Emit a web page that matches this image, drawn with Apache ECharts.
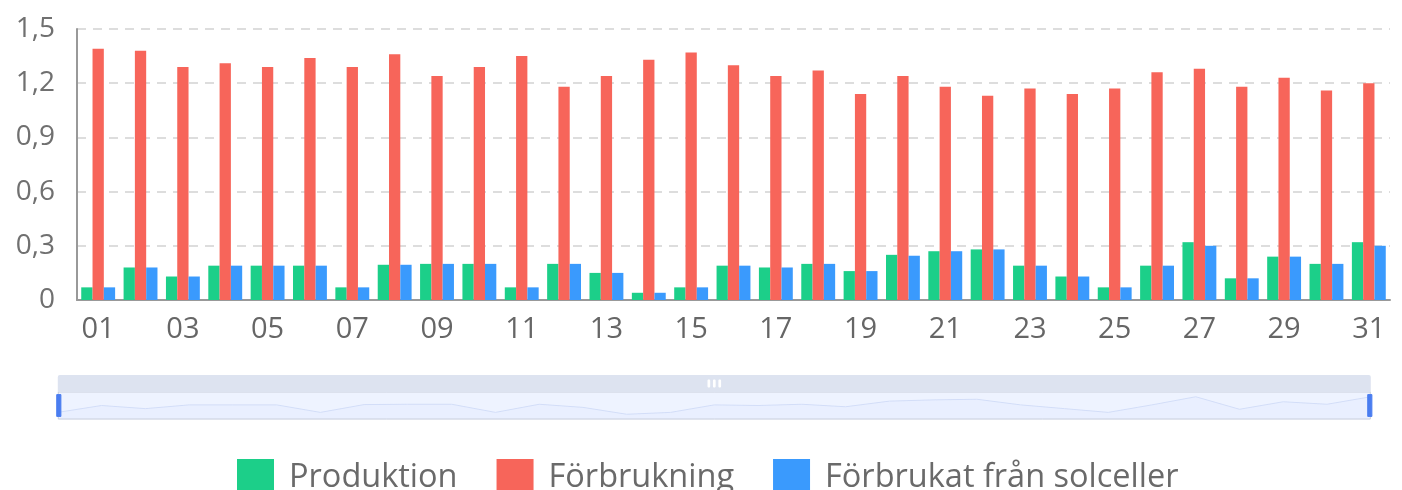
<!DOCTYPE html>
<html>
<head>
<meta charset="utf-8">
<script src="https://cdn.jsdelivr.net/npm/echarts@6/dist/echarts.min.js"></script>
<style>
html,body{margin:0;padding:0;background:#fff;}
#chart{width:1402px;height:490px;}
</style>
</head>
<body>
<div id="chart"></div>
<script>
const days = ['01','02','03','04','05','06','07','08','09','10','11','12','13','14','15','16','17','18','19','20','21','22','23','24','25','26','27','28','29','30','31'];
const produktion = [0.07,0.18,0.13,0.19,0.19,0.19,0.07,0.195,0.20,0.20,0.07,0.20,0.15,0.04,0.07,0.19,0.18,0.20,0.16,0.25,0.27,0.28,0.19,0.13,0.07,0.19,0.32,0.12,0.24,0.20,0.32];
const forbrukning = [1.39,1.38,1.29,1.31,1.29,1.34,1.29,1.36,1.24,1.29,1.35,1.18,1.24,1.33,1.37,1.30,1.24,1.27,1.14,1.24,1.18,1.13,1.17,1.14,1.17,1.26,1.28,1.18,1.23,1.16,1.20];
const franSolceller = [0.07,0.18,0.13,0.19,0.19,0.19,0.07,0.195,0.20,0.20,0.07,0.20,0.15,0.04,0.07,0.19,0.18,0.20,0.16,0.245,0.27,0.28,0.19,0.13,0.07,0.19,0.30,0.12,0.24,0.20,0.30];
const seriesNames = ['Produktion','Förbrukning','Förbrukat från solceller'];
const colors = ['#1ccf89','#f7655a','#3a9afd'];

const font = '"Open Sans", "Noto Sans", sans-serif';
const chart = echarts.init(document.getElementById('chart'), null, {renderer:'canvas'});
chart.setOption({
  animation:false,
  color: colors,
  textStyle:{fontFamily:font},
  grid:{left:77,right:12,top:29,bottom:190,containLabel:false},
  legend:{
    top:459,left:237,padding:0,
    itemWidth:37,itemHeight:37,itemGap:39,
    icon:'rect',
    textStyle:{fontSize:32.5,color:'#6a6a6a',fontFamily:font,padding:[0,0,10,10]},
    data:seriesNames
  },
  dataZoom:[{
    type:'slider',
    xAxisIndex:0,
    start:0,end:100,
    left:51,right:38,top:375,height:28,
    showDetail:false,
    moveHandleSize:17,
    moveHandleStyle:{color:'#dde3f0',opacity:1},
    handleIcon:'path://M0,0 L4,0 L4,21 L0,21 Z',
    handleSize:'78%',
    handleStyle:{color:'#4a7df0',borderColor:'#4a7df0'},
    borderColor:'#c9cfdc',
    backgroundColor:'rgba(0,0,0,0)',
    fillerColor:'rgba(200,215,255,0.3)',
    dataBackground:{lineStyle:{color:'#d8e0f5',width:1},areaStyle:{color:'#e6ecfb',opacity:0.3}},
    selectedDataBackground:{lineStyle:{color:'#d8e0f5',width:1},areaStyle:{color:'#e6ecfb',opacity:0.3}}
  }],
  xAxis:{
    type:'category',
    data:days,
    axisLine:{lineStyle:{color:'#999',width:2}},
    axisTick:{show:false},
    axisLabel:{interval:1,fontSize:29,color:'#666',margin:15,fontFamily:font}
  },
  yAxis:{
    type:'value',
    min:0,max:1.5,interval:0.3,
    axisLine:{show:true,lineStyle:{color:'#999',width:2}},
    axisTick:{show:false},
    splitLine:{lineStyle:{type:[9,7],color:'#ddd',width:2}},
    axisLabel:{fontSize:28,color:'#707070',margin:22,fontFamily:font,
      formatter:function(v){return v===0?'0':v.toFixed(1).replace('.',',');}}
  },
  series:[
    {name:seriesNames[0],type:'bar',data:produktion,barGap:'0%',barCategoryGap:'20%'},
    {name:seriesNames[1],type:'bar',data:forbrukning,barGap:'0%',barCategoryGap:'20%'},
    {name:seriesNames[2],type:'bar',data:franSolceller,barGap:'0%',barCategoryGap:'20%'}
  ]
});
</script>
</body>
</html>
